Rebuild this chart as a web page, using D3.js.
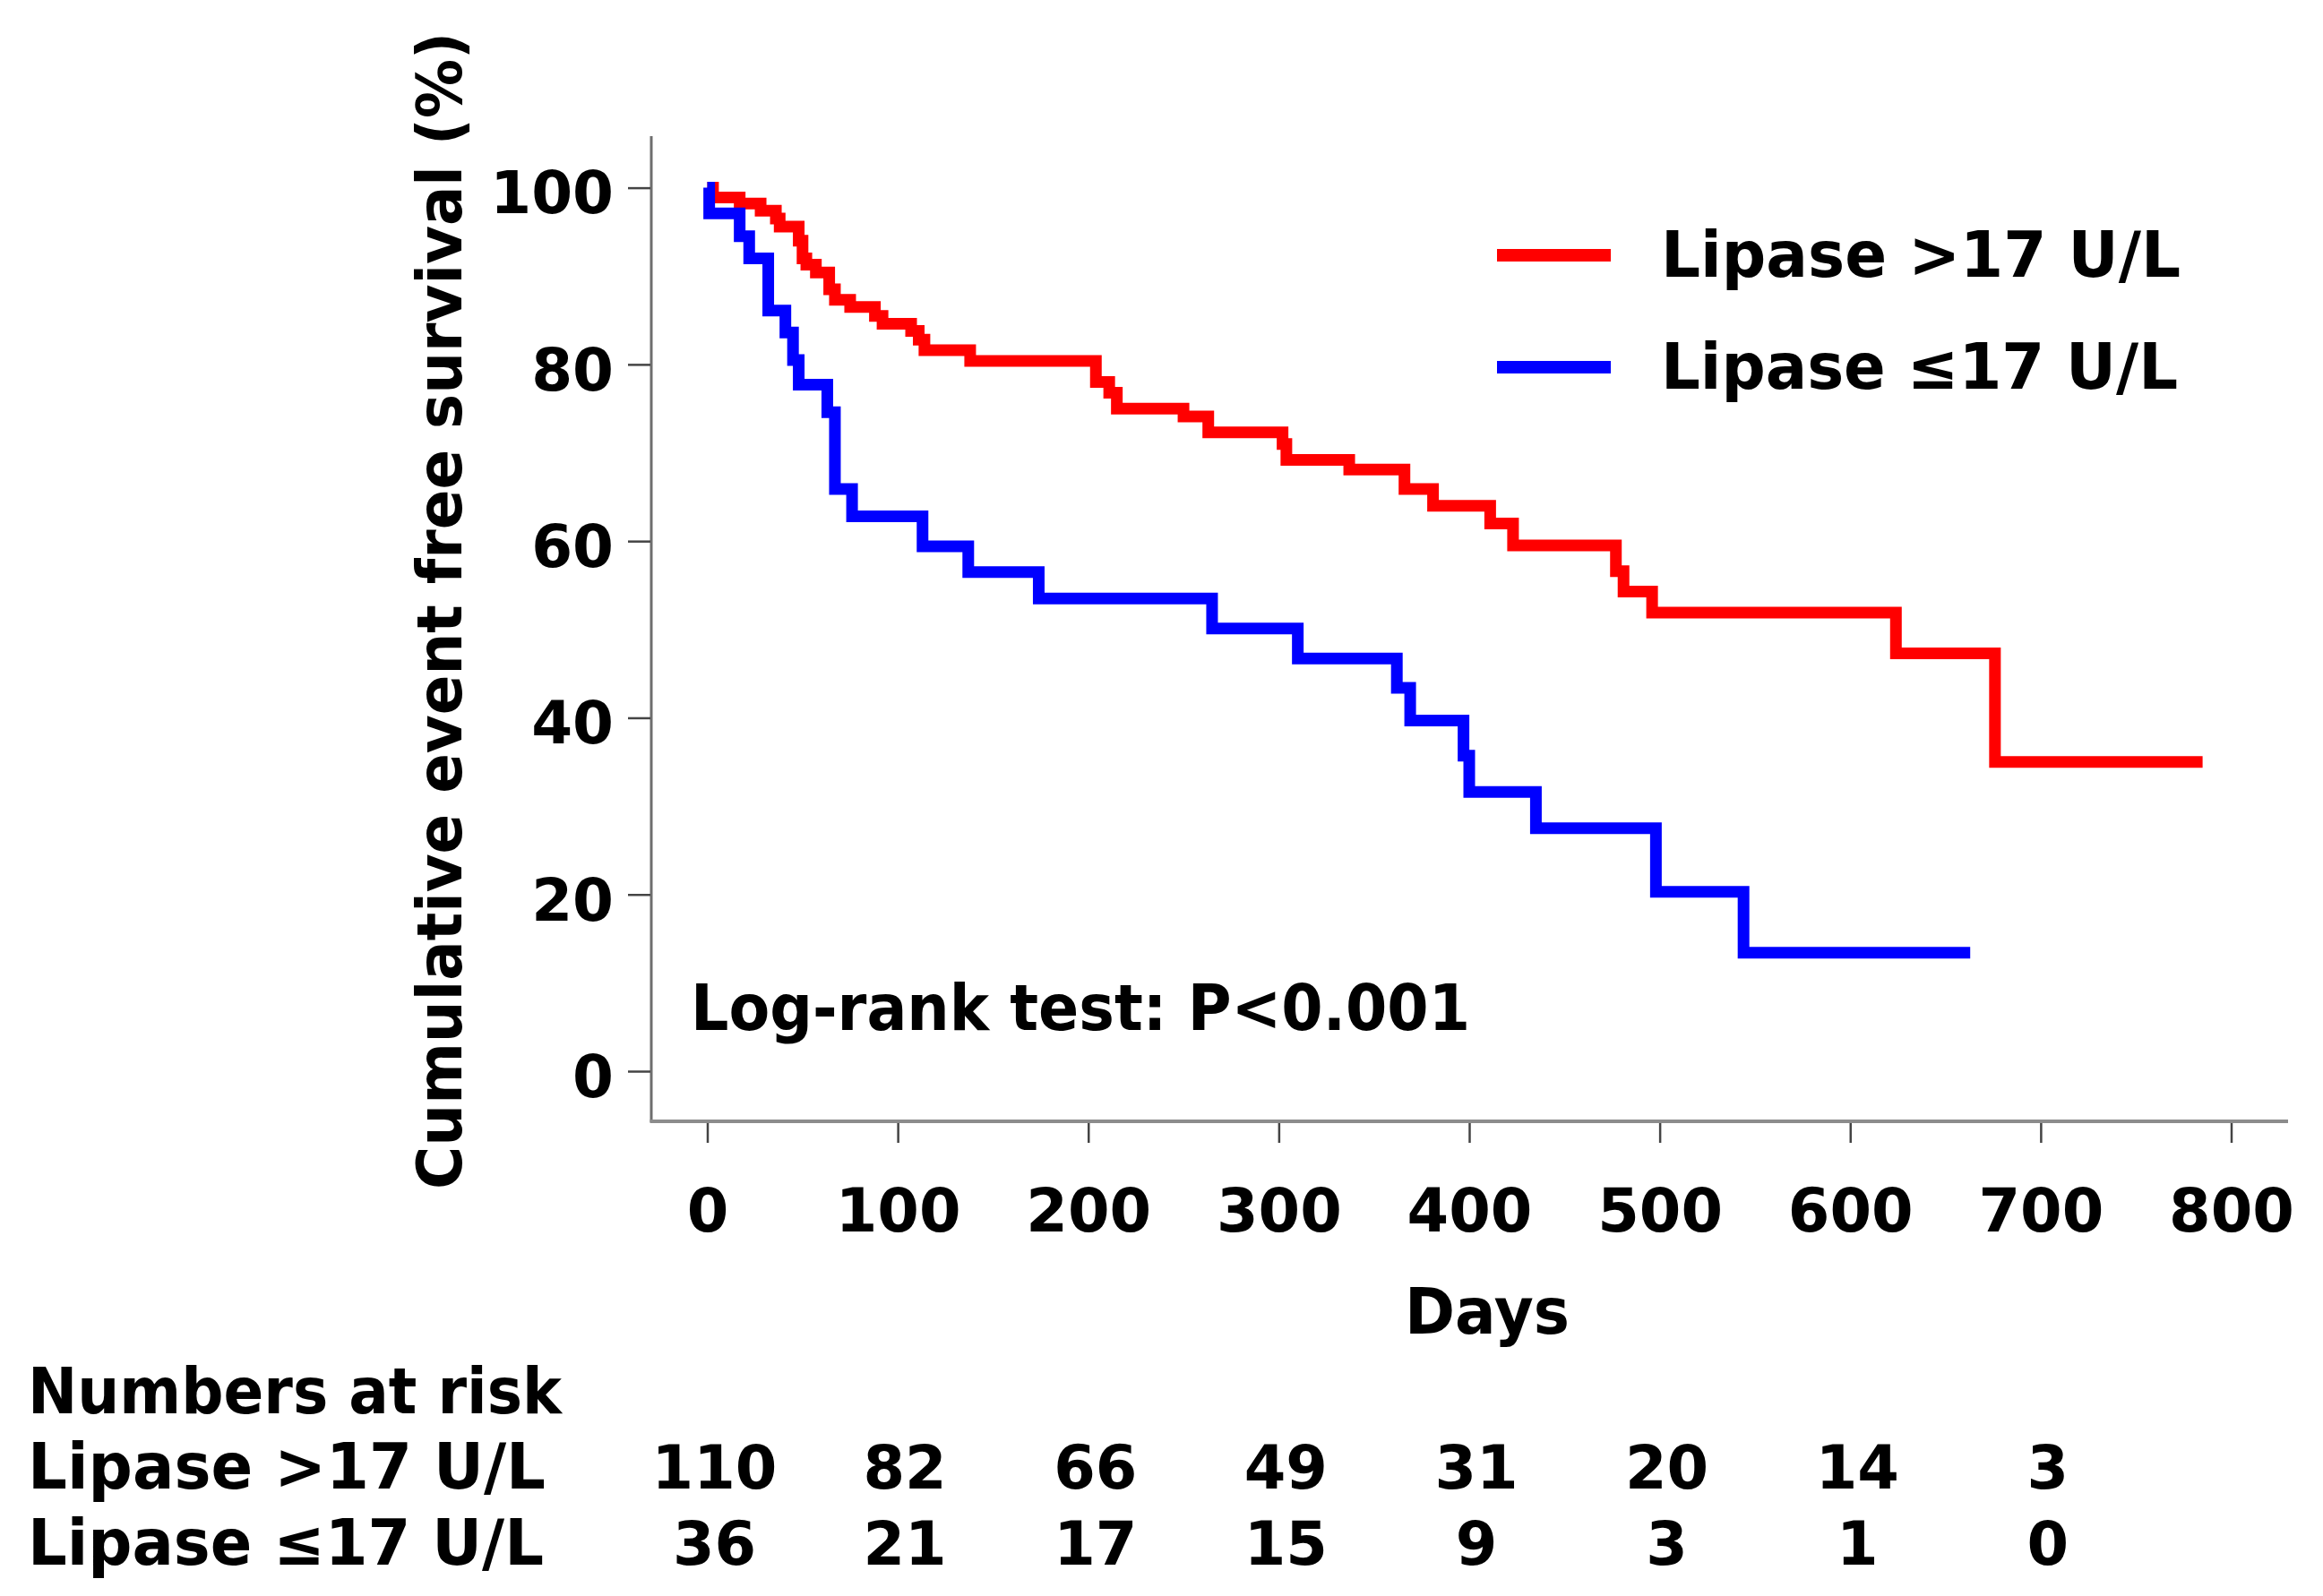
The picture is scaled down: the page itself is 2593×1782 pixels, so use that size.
<!DOCTYPE html>
<html>
<head>
<meta charset="utf-8">
<script src="https://cdn.jsdelivr.net/npm/d3@7"></script>
<style>
  html, body { margin: 0; padding: 0; background: #fff; }
  svg { display: block; }
  text { font-family: "DejaVu Sans", Verdana, sans-serif; font-weight: bold; fill: #000; }
</style>
</head>
<body>
<svg id="chart" width="2593" height="1782"></svg>
<script>
// ---------- DATA ----------
const groupLabels = ["Lipase >17 U/L", "Lipase \u226417 U/L"];
const groupColors = ["#ff0000", "#0000ff"];

// Lipase >17 U/L : step times (days) and survival after each step (%)
const highTimes  = [0, 3, 17, 28, 36, 38, 48, 50, 52, 57, 64, 67, 75, 88, 92, 107, 111, 114, 138, 204, 211, 215, 250, 263, 302, 304, 337, 366, 381, 411, 423, 477, 481, 496, 624, 676, 785];
const highValues = [100, 98.9, 98.2, 97.4, 96.5, 95.6, 94.0, 92.0, 91.3, 90.4, 88.5, 87.3, 86.5, 85.5, 84.6, 83.8, 82.8, 81.6, 80.4, 78.0, 76.8, 75.0, 74.1, 72.3, 71.0, 69.2, 68.1, 65.9, 64.0, 62.0, 59.5, 56.6, 54.3, 51.9, 47.3, 35.0, 35.0];

// Lipase <=17 U/L
const lowTimes  = [0, 1, 17, 22, 32, 41, 45, 48, 63, 67, 76, 113, 137, 174, 265, 310, 362, 369, 397, 400, 435, 498, 544, 663];
const lowValues = [100, 97.1, 94.5, 92.0, 86.1, 83.6, 80.5, 77.7, 74.6, 65.9, 62.8, 59.4, 56.5, 53.5, 50.1, 46.7, 43.4, 39.7, 35.7, 31.6, 27.5, 20.3, 13.4, 13.4];

const xTickValues = [0, 100, 200, 300, 400, 500, 600, 700, 800];
const yTickValues = [0, 20, 40, 60, 80, 100];

const riskTimes = [0, 100, 200, 300, 400, 500, 600, 700];
const riskHigh  = [110, 82, 66, 49, 31, 20, 14, 3];
const riskLow   = [36, 21, 17, 15, 9, 3, 1, 0];

const yTitle = "Cumulative event free survival (%)";
const xTitle = "Days";
const pText  = "Log-rank test: P<0.001";
const riskTitle = "Numbers at risk";

// ---------- LAYOUT ----------
const svg = d3.select("#chart");
svg.append("rect").attr("width", 2593).attr("height", 1782).attr("fill", "#fff");

const x = d3.scaleLinear().domain([0, 800]).range([789.5, 2490.5]);
const y = d3.scaleLinear().domain([0, 100]).range([1196, 209.6]);

const axisX0 = 727;      // y-axis position
const axisY0 = 1252;     // x-axis position

// axis lines
svg.append("line").attr("x1", axisX0).attr("x2", axisX0).attr("y1", 152).attr("y2", axisY0 + 1)
  .attr("stroke", "#6e6e6e").attr("stroke-width", 3);
svg.append("line").attr("x1", axisX0 - 1.5).attr("x2", 2554).attr("y1", axisY0).attr("y2", axisY0)
  .attr("stroke", "#8c8c8c").attr("stroke-width", 4);

// y axis ticks + labels
const gy = svg.append("g").attr("transform", `translate(${axisX0 - 1},0)`)
  .call(d3.axisLeft(y).tickValues(yTickValues).tickSize(25).tickPadding(16).tickFormat(d3.format("d")));
gy.select(".domain").remove();
gy.selectAll(".tick line").attr("stroke", "#444").attr("stroke-width", 2.5);
gy.selectAll(".tick text").attr("font-size", 66).attr("dy", "0.43em")
  .style("font-family", "'DejaVu Sans', Verdana, sans-serif").style("font-weight", "bold").attr("fill", "#000");

// x axis ticks + labels
const gx = svg.append("g").attr("transform", `translate(0,${axisY0 + 2})`)
  .call(d3.axisBottom(x).tickValues(xTickValues).tickSize(22).tickFormat(d3.format("d")));
gx.select(".domain").remove();
gx.selectAll(".tick line").attr("stroke", "#444").attr("stroke-width", 2.5);
gx.selectAll(".tick text").attr("font-size", 67).attr("y", 1375 - (axisY0 + 2)).attr("dy", 0)
  .style("font-family", "'DejaVu Sans', Verdana, sans-serif").style("font-weight", "bold").attr("fill", "#000");

// helper to squeeze text to a measured width
function fit(sel, w) {
  sel.attr("textLength", w).attr("lengthAdjust", "spacingAndGlyphs");
  return sel;
}

// ---------- CURVES ----------
const line = d3.line().x(d => x(d[0])).y(d => y(d[1])).curve(d3.curveStepAfter);
const series = [
  d3.zip(highTimes, highValues),
  d3.zip(lowTimes, lowValues)
];
series.forEach((pts, i) => {
  svg.append("path").datum(pts).attr("d", line)
    .attr("fill", "none").attr("stroke", groupColors[i]).attr("stroke-width", 13)
    .attr("stroke-linejoin", "miter").attr("stroke-linecap", "butt");
});

// ---------- LEGEND ----------
const legendY = [285, 410];
groupLabels.forEach((lab, i) => {
  svg.append("line").attr("x1", 1671).attr("x2", 1798).attr("y1", legendY[i]).attr("y2", legendY[i])
    .attr("stroke", groupColors[i]).attr("stroke-width", 14);
  fit(svg.append("text").attr("x", 1854).attr("y", legendY[i] + 24).attr("font-size", 71).text(lab), i === 0 ? 580 : 577);
});

// ---------- ANNOTATIONS ----------
fit(svg.append("text").attr("x", 771).attr("y", 1150).attr("font-size", 71).text(pText), 870);

fit(svg.append("text").attr("x", 1660).attr("y", 1489).attr("font-size", 71)
  .attr("text-anchor", "middle").text(xTitle), 184);

fit(svg.append("text").attr("transform", "translate(515,682) rotate(-90)").attr("font-size", 70)
  .attr("text-anchor", "middle").text(yTitle), 1292);

// ---------- RISK TABLE ----------
fit(svg.append("text").attr("x", 31).attr("y", 1578).attr("font-size", 71).text(riskTitle), 596);
const riskRows = [riskHigh, riskLow];
const riskY = [1662, 1747];
riskRows.forEach((row, i) => {
  fit(svg.append("text").attr("x", 31).attr("y", riskY[i]).attr("font-size", 71).text(groupLabels[i]), i === 0 ? 578 : 576);
  svg.selectAll(null).data(d3.zip(riskTimes, row)).enter().append("text")
    .attr("x", d => x(d[0]) + 8).attr("y", riskY[i]).attr("font-size", 67)
    .attr("text-anchor", "middle").text(d => d[1]);
});
</script>
</body>
</html>
